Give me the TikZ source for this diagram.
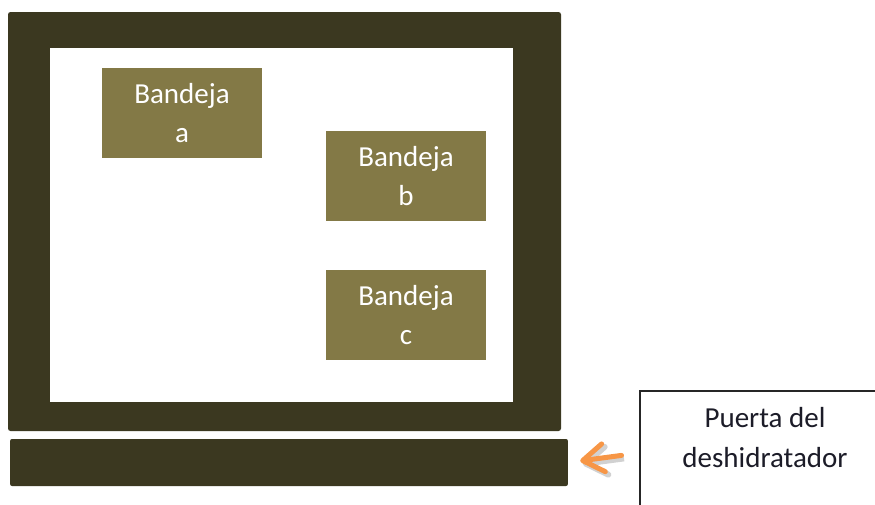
\documentclass[tikz,border=0pt]{standalone}
\definecolor{framedark}{RGB}{59, 56, 32}
\definecolor{trayolive}{RGB}{131, 121, 70}
\definecolor{arroworange}{RGB}{247, 150, 70}
\definecolor{labelink}{RGB}{28, 28, 40}
\usepackage{fontspec}
\setmainfont{Carlito}
\usepackage{tikz}
\usetikzlibrary{arrows.meta, positioning}
\tikzset{
    traybox/.style={draw=none, rectangle, fill=trayolive, minimum width=3.2cm, minimum height=1.8cm, inner sep=0pt, align=center, text=white, font=\fontsize{16.5}{22}\selectfont},
    doorbar/.style={rectangle, rounded corners=0.04cm, fill=framedark, minimum width=11.16cm, minimum height=0.94cm, inner sep=0pt},
    notebox/.style={draw=black!85, line width=0.8pt, fill=white, rectangle, minimum width=5cm, minimum height=2.48cm, inner sep=0pt},
    notetext/.style={align=center, text=labelink, inner sep=0pt, font=\fontsize{16.5}{22.5}\selectfont},
    doorarrow/.style={-{Straight Barb[length=0.42cm, width=0.56cm, line join=round, line cap=round]}, line width=0.1cm, draw=arroworange, line cap=round,
        preaction={draw=black, opacity=0.18, line width=0.12cm, transform canvas={shift={(0.05cm,-0.06cm)}}}},
}
\begin{document}
\begin{tikzpicture}[x=0.02cm, y=-0.02cm]
    \useasboundingbox (0,0) rectangle (875,504);

    % Frame of the dehydrator
    \fill[framedark, rounded corners=0.05cm] (8,12) rectangle (561,431);
    \fill[white] (50,48) rectangle (513,402);

    % Trays
    \node[traybox] (traya) at (182,113) {Bandeja\\a};
    \node[traybox] (trayb) at (406,176) {Bandeja\\b};
    \node[traybox] (trayc) at (406,315) {Bandeja\\c};

    % Door
    \node[doorbar] (door) at (289,462.5) {};

    % Label
    \node[notebox] (note) at (765,453) {};
    \node[notetext] (notetxt) at (765,437.5) {Puerta del\\deshidratador};

    % Arrow
    \draw[doorarrow, shorten <=0.36cm, shorten >=0.24cm] (note.west) -- (door.east);
\end{tikzpicture}
\end{document}
